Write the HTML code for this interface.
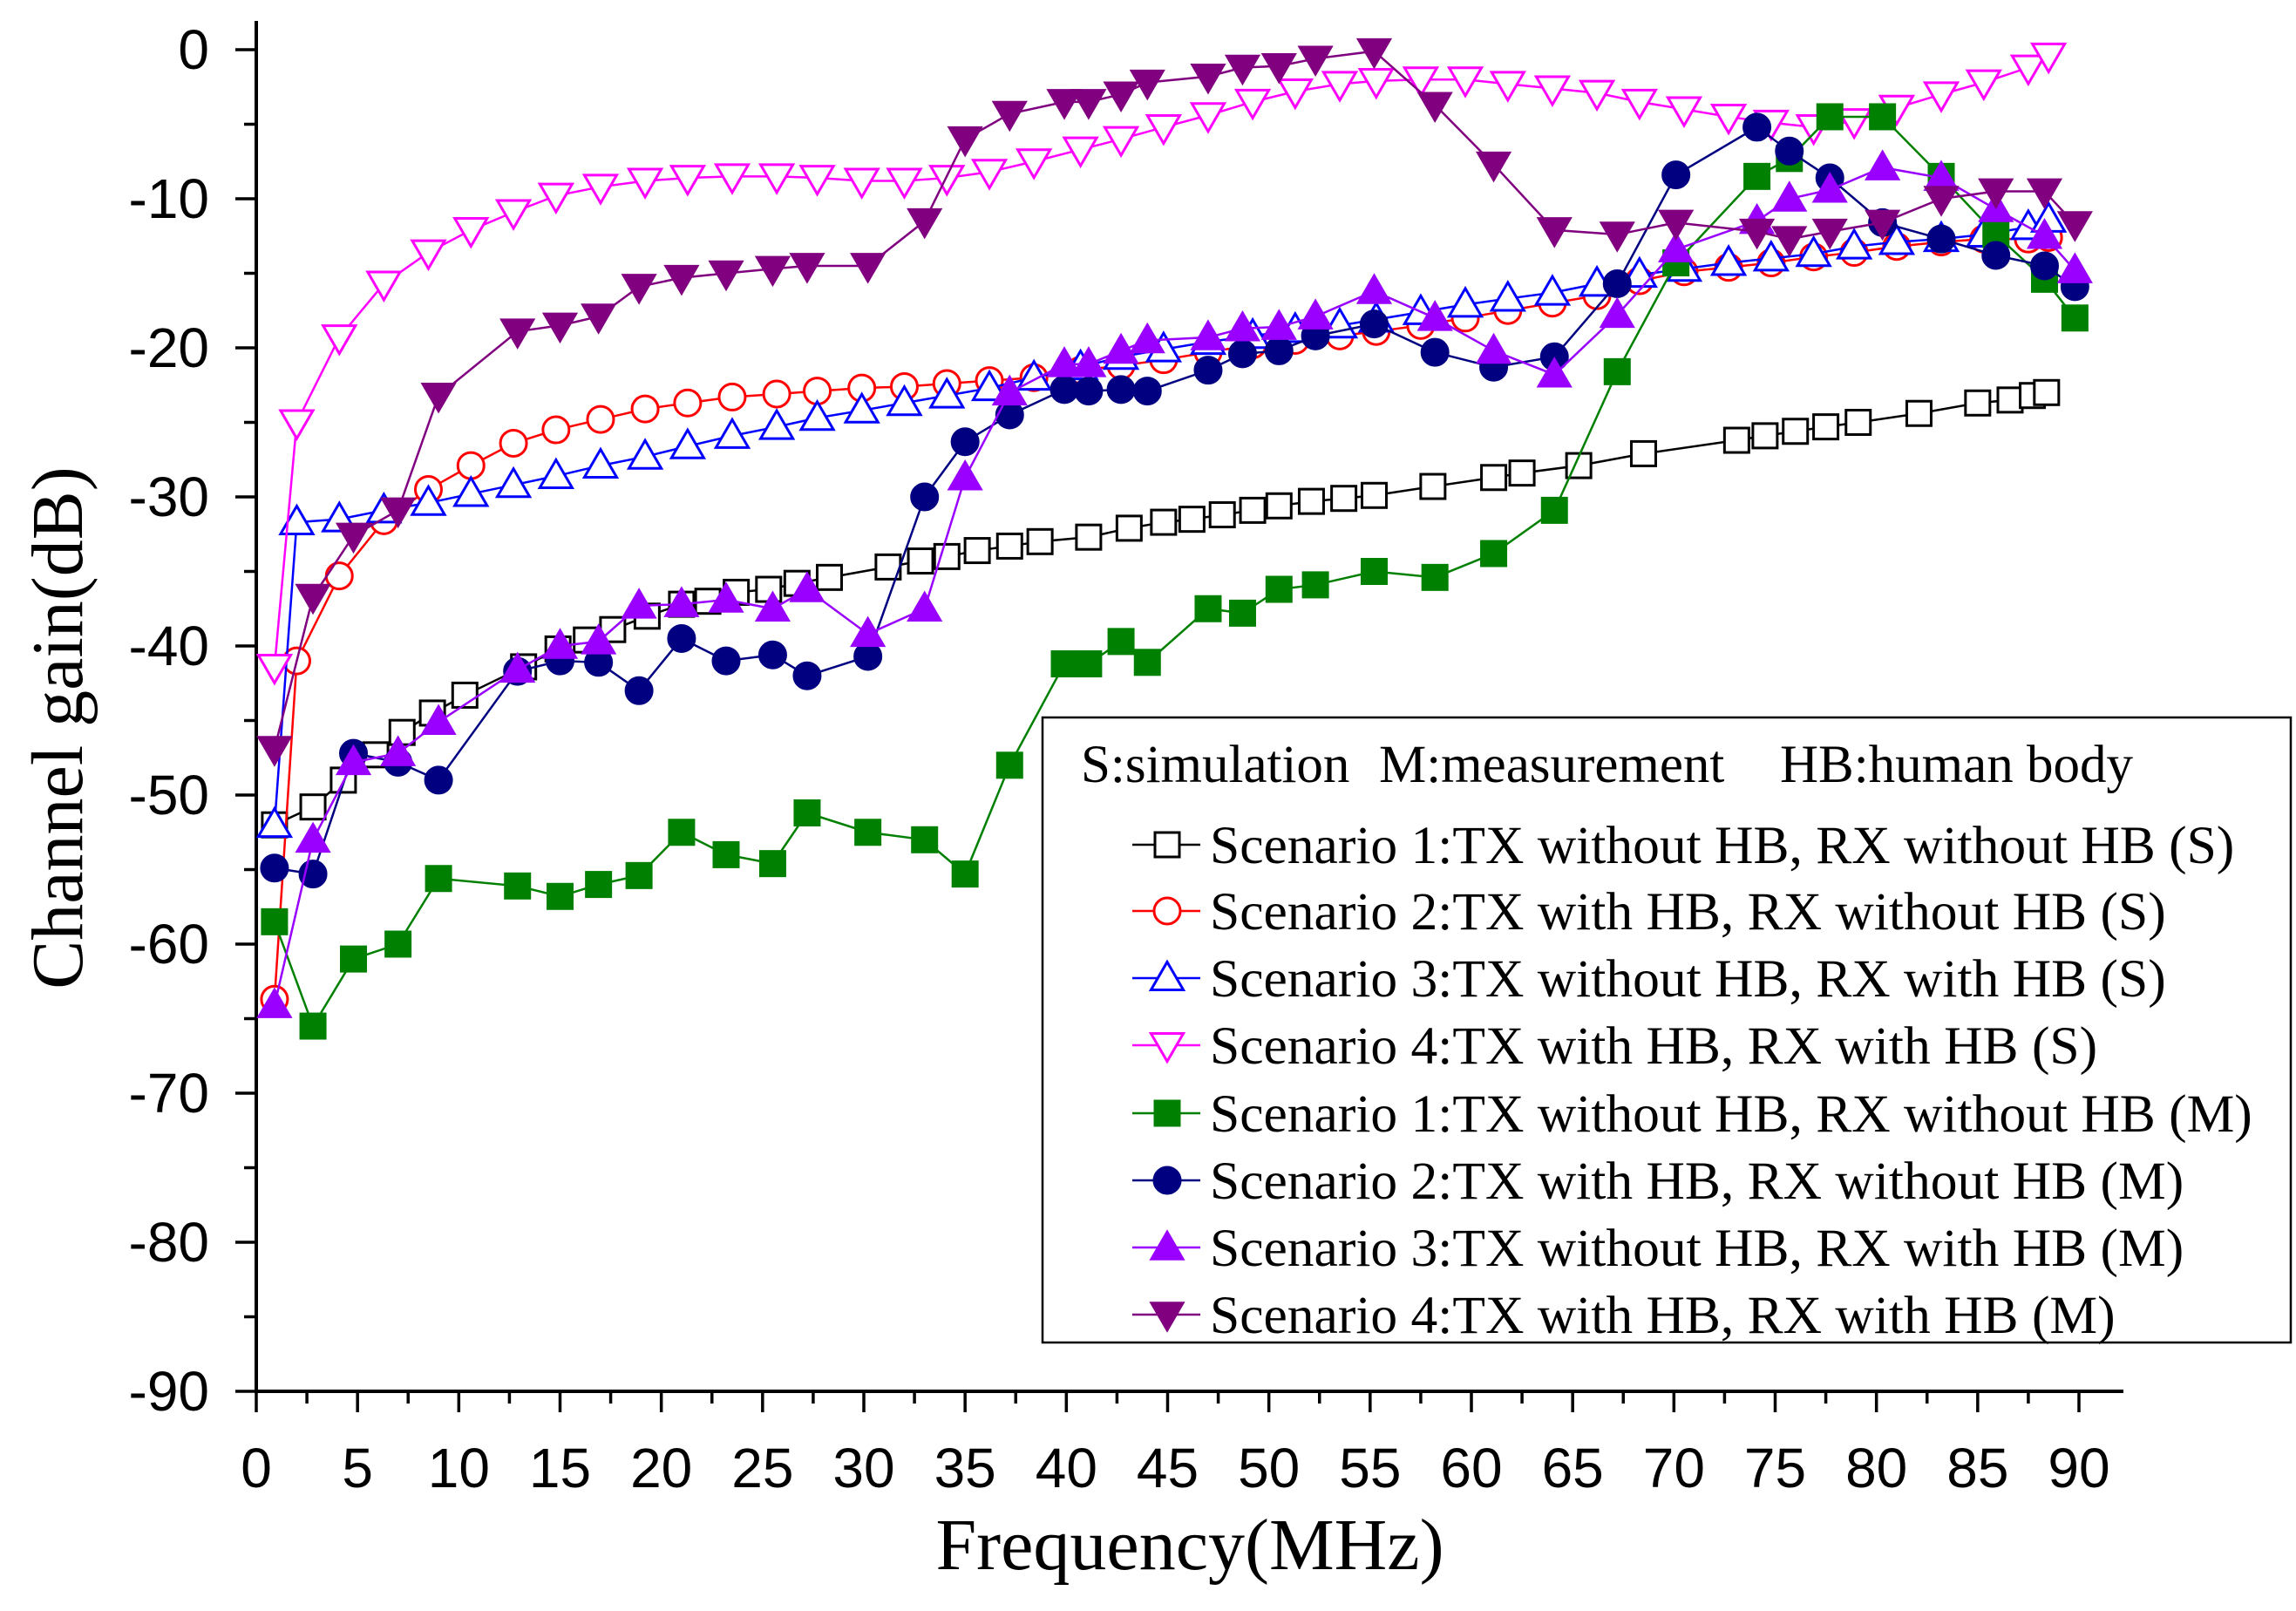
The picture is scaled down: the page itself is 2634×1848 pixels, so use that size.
<!DOCTYPE html>
<html><head><meta charset="utf-8"><style>
html,body{margin:0;padding:0;background:#fff}
svg{display:block}
</style></head><body>
<svg id="chart" xmlns="http://www.w3.org/2000/svg" width="2634" height="1848" viewBox="0 0 2634 1848">
<rect width="2634" height="1848" fill="#fff"/>
<g id="axes"></g>
<g id="series"></g>
<g id="legend"></g>
</svg>
<script>
const xTicks = [0,5,10,15,20,25,30,35,40,45,50,55,60,65,70,75,80,85,90];
const yTicks = [0,-10,-20,-30,-40,-50,-60,-70,-80,-90];
const s1Freq = [0.9,2.8,4.3,5.9,7.2,8.7,10.3,13.2,14.9,16.3,17.6,19.3,21,22.3,23.7,25.3,26.7,28.3,31.2,32.8,34.1,35.6,37.2,38.7,41.1,43.1,44.8,46.2,47.7,49.2,50.5,52.1,53.7,55.2,58.1,61.1,62.5,65.3,68.5,73.1,74.5,76,77.5,79.1,82.1,85,86.6,87.7,88.4];
const s1Gain = [-52,-50.8,-49,-47.3,-45.8,-44.5,-43.3,-41.4,-40.2,-39.6,-38.9,-38,-37.2,-37,-36.4,-36.2,-35.8,-35.4,-34.7,-34.3,-34,-33.6,-33.3,-33,-32.7,-32.1,-31.7,-31.5,-31.2,-30.9,-30.6,-30.3,-30.1,-29.9,-29.3,-28.7,-28.4,-27.9,-27.1,-26.2,-25.9,-25.6,-25.3,-25,-24.4,-23.7,-23.5,-23.2,-23];
const sFreq = [0.9,2.0,4.1,6.3,8.5,10.6,12.7,14.8,17.0,19.2,21.3,23.5,25.7,27.7,29.9,32.0,34.1,36.2,38.4,40.7,42.7,44.8,47.0,49.2,51.3,53.5,55.3,57.5,59.7,61.8,64.0,66.2,68.3,70.5,72.7,74.8,76.9,78.9,81.0,83.2,85.3,87.5,88.5];
const s2Gain = [-63.7,-41,-35.3,-31.6,-29.5,-27.9,-26.4,-25.5,-24.8,-24.1,-23.7,-23.3,-23.1,-22.9,-22.7,-22.6,-22.4,-22.2,-22,-21.5,-21.2,-20.8,-20.3,-19.8,-19.5,-19.2,-18.9,-18.5,-18,-17.5,-17,-16.5,-15.5,-14.9,-14.6,-14.3,-13.9,-13.6,-13.2,-12.9,-12.7,-12.7,-12.6];
const s3Gain = [-52,-31.7,-31.5,-30.9,-30.4,-29.8,-29.2,-28.6,-27.9,-27.3,-26.6,-25.9,-25.3,-24.7,-24.2,-23.7,-23.2,-22.7,-22,-21.3,-20.6,-20.1,-19.6,-19.2,-18.8,-18.5,-18.1,-17.6,-17.1,-16.7,-16.3,-15.7,-15.1,-14.7,-14.3,-14,-13.7,-13.2,-12.9,-12.7,-12.4,-11.9,-11.4];
const s4Gain = [-41.4,-25,-19.3,-15.7,-13.6,-12.1,-10.9,-9.8,-9.2,-8.8,-8.6,-8.5,-8.5,-8.6,-8.8,-8.8,-8.6,-8.2,-7.5,-6.7,-6,-5.2,-4.4,-3.5,-2.8,-2.3,-2.1,-2,-2,-2.3,-2.6,-2.9,-3.5,-4,-4.5,-4.9,-5.2,-4.8,-3.9,-3,-2.2,-1.2,-0.4];
const mFreq = [0.9,2.8,4.8,7.0,9.0,12.9,15.0,16.9,18.9,21.0,23.2,25.5,27.2,30.2,33.0,35.0,37.2,39.9,41.1,42.7,44.0,47.0,48.7,50.5,52.3,55.2,58.2,61.1,64.1,67.2,70.1,74.1,75.7,77.7,80.3,83.2,85.9,88.3,89.8];
const m1Gain = [-58.5,-65.5,-61,-60,-55.6,-56.1,-56.8,-56,-55.4,-52.5,-54,-54.6,-51.2,-52.5,-53,-55.3,-48,-41.2,-41.2,-39.7,-41.1,-37.5,-37.8,-36.2,-35.9,-35,-35.4,-33.8,-30.9,-21.6,-14.3,-8.5,-7.3,-4.5,-4.5,-8.5,-12.4,-15.4,-18];
const m2Gain = [-54.9,-55.3,-47.2,-47.8,-49,-41.7,-41,-41.1,-43,-39.5,-41,-40.6,-42,-40.7,-30,-26.3,-24.5,-22.8,-22.9,-22.8,-22.9,-21.5,-20.4,-20.2,-19.2,-18.4,-20.3,-21.3,-20.6,-15.7,-8.4,-5.2,-6.8,-8.6,-11.6,-12.7,-13.8,-14.5,-15.9];
const m3Gain = [-64.1,-53,-47.8,-47.2,-45.1,-41.6,-40,-39.7,-37.3,-37.2,-36.9,-37.5,-36.2,-39.2,-37.5,-28.7,-23,-21.1,-21.1,-20.2,-19.5,-19.3,-18.7,-18.6,-17.9,-16.2,-18,-20.2,-21.8,-17.8,-13.4,-11.5,-10,-9.4,-7.9,-8.6,-10.7,-12.5,-14.8];
const m4Gain = [-46.9,-36.7,-32.6,-30.9,-23.2,-18.9,-18.5,-17.9,-15.9,-15.3,-15,-14.7,-14.5,-14.5,-11.5,-6,-4.3,-3.5,-3.5,-3,-2.2,-1.8,-1.2,-1.1,-0.6,-0.1,-3.7,-7.7,-12.1,-12.4,-11.6,-12.2,-12.7,-12.2,-11.6,-10,-9.5,-9.5,-11.7];
const legendLabels = ["Scenario 1:TX without HB, RX without HB (S)","Scenario 2:TX with HB, RX without HB (S)","Scenario 3:TX without HB, RX with HB (S)","Scenario 4:TX with HB, RX with HB (S)","Scenario 1:TX without HB, RX without HB (M)","Scenario 2:TX with HB, RX without HB (M)","Scenario 3:TX without HB, RX with HB (M)","Scenario 4:TX with HB, RX with HB (M)"];

const NS="http://www.w3.org/2000/svg";
const X0=294, X1=2385, Y0=57, Y1=1596;
function xs(f){return X0+(f-0)*(X1-X0)/90;}
function ys(v){return Y0+(0-v)*(Y1-Y0)/90;}
function mk(tag,attrs,parent){const e=document.createElementNS(NS,tag);for(const k in attrs)e.setAttribute(k,attrs[k]);parent.appendChild(e);return e;}

const axes=document.getElementById('axes');
let e;
e=mk('line',{x1:X0,y1:24,x2:X0,y2:Y1+2,stroke:'#000','stroke-width':4},axes);


e=mk('line',{x1:X0-2,y1:Y1,x2:2436,y2:Y1,stroke:'#000','stroke-width':4},axes);


for(let i=0;i<xTicks.length;i++){
  const x=xs(xTicks[i]);
  e=mk('line',{x1:x,y1:Y1,x2:x,y2:Y1+24,stroke:'#000','stroke-width':3.5},axes);
  
  
  if(i<xTicks.length-1){
    const xm=xs(xTicks[i]+2.5);
    e=mk('line',{x1:xm,y1:Y1,x2:xm,y2:Y1+14,stroke:'#000','stroke-width':3.5},axes);
    
    
  }
  const t=mk('text',{x:x,y:1706,'text-anchor':'middle','font-family':'Liberation Sans, sans-serif','font-size':64,fill:'#000'},axes);
  t.textContent=xTicks[i];
  
  
}
for(let i=0;i<yTicks.length;i++){
  const y=ys(yTicks[i]);
  e=mk('line',{x1:X0-24,y1:y,x2:X0,y2:y,stroke:'#000','stroke-width':3.5},axes);
  
  
  if(i<yTicks.length-1){
    const ym=ys(yTicks[i]-5);
    e=mk('line',{x1:X0-14,y1:ym,x2:X0,y2:ym,stroke:'#000','stroke-width':3.5},axes);
    
    
  }
  const t=mk('text',{x:240,y:y+22,'text-anchor':'end','font-family':'Liberation Sans, sans-serif','font-size':64,fill:'#000'},axes);
  t.textContent=yTicks[i];
  
  
}
let t=mk('text',{x:1365,y:1800,'text-anchor':'middle','font-family':'Liberation Serif, serif','font-size':84,fill:'#000'},axes);
t.textContent='Frequency(MHz)';


t=mk('text',{x:0,y:0,'text-anchor':'middle','font-family':'Liberation Serif, serif','font-size':84,fill:'#000',transform:'translate(94,835) rotate(-90)'},axes);
t.textContent='Channel gain(dB)';



function marker(g,shape,color,filled,cx,cy,s){
  const fill=filled?color:'#fff', sw=filled?1:3;
  let el;
  if(shape==='square') el=mk('rect',{x:cx-s/2,y:cy-s/2,width:s,height:s,fill:fill,stroke:color,'stroke-width':sw},g);
  else if(shape==='circle') el=mk('circle',{cx:cx,cy:cy,r:s/2,fill:fill,stroke:color,'stroke-width':sw},g);
  else if(shape==='up') el=mk('polygon',{points:`${cx},${cy-s*0.58} ${cx-s*0.58},${cy+s*0.42} ${cx+s*0.58},${cy+s*0.42}`,fill:fill,stroke:color,'stroke-width':sw},g);
  else el=mk('polygon',{points:`${cx},${cy+s*0.58} ${cx-s*0.58},${cy-s*0.42} ${cx+s*0.58},${cy-s*0.42}`,fill:fill,stroke:color,'stroke-width':sw},g);
  return el;
}
const seriesDefs=[
 {name:'scenario1-sim',f:s1Freq,v:s1Gain,shape:'square',color:'#000000',filled:false,size:28},
 {name:'scenario2-sim',f:sFreq,v:s2Gain,shape:'circle',color:'#FF0000',filled:false,size:30},
 {name:'scenario3-sim',f:sFreq,v:s3Gain,shape:'up',color:'#0000FF',filled:false,size:32},
 {name:'scenario4-sim',f:sFreq,v:s4Gain,shape:'down',color:'#FF00FF',filled:false,size:32},
 {name:'scenario1-meas',f:mFreq,v:m1Gain,shape:'square',color:'#008000',filled:true,size:30},
 {name:'scenario2-meas',f:mFreq,v:m2Gain,shape:'circle',color:'#000080',filled:true,size:32},
 {name:'scenario3-meas',f:mFreq,v:m3Gain,shape:'up',color:'#9900FF',filled:true,size:34},
 {name:'scenario4-meas',f:mFreq,v:m4Gain,shape:'down',color:'#800080',filled:true,size:34}
];
const sg=document.getElementById('series');
seriesDefs.forEach(d=>{
  const g=mk('g',{},sg);
  
  
  const pts=d.f.map((f,i)=>xs(f)+','+ys(d.v[i])).join(' ');
  const pl=mk('polyline',{points:pts,fill:'none',stroke:d.color,'stroke-width':2.5},g);
  
  
  d.f.forEach((f,i)=>{
    const m=marker(g,d.shape,d.color,d.filled,xs(f),ys(d.v[i]),d.size);
    
    
  });
});

const lg=document.getElementById('legend');
e=mk('rect',{x:1196,y:823,width:1432,height:717,fill:'#fff',stroke:'#000','stroke-width':2.5},lg);


const hdr=[['S:simulation',1240],['M:measurement',1582],['HB:human body',2042]];
hdr.forEach(h=>{
  const ht=mk('text',{x:h[1],y:897,'font-family':'Liberation Serif, serif','font-size':61,fill:'#000'},lg);
  ht.textContent=h[0];
  
  
});
const legY=[969,1045,1122,1199,1277,1354,1431,1508];
seriesDefs.forEach((d,i)=>{
  const g=mk('g',{},lg);
  
  
  const y=legY[i];
  mk('line',{x1:1299,y1:y,x2:1377,y2:y,stroke:d.color,'stroke-width':2.5},g);
  marker(g,d.shape,d.color,d.filled,1339,y,d.size);
  const tt=mk('text',{x:1388,y:y+21,'font-family':'Liberation Serif, serif','font-size':61.5,fill:'#000'},g);
  tt.textContent=legendLabels[i];
});
</script>
</body></html>
